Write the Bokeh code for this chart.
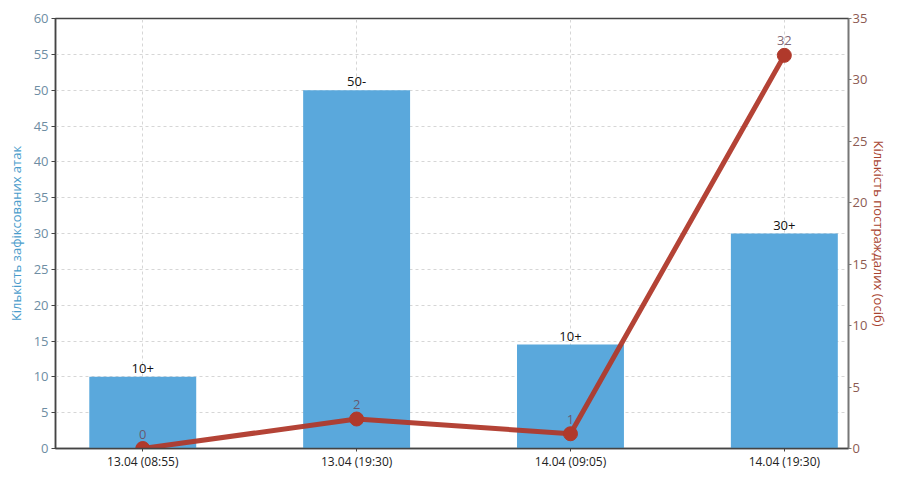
from bokeh.plotting import figure
from bokeh.models import Range1d, LinearAxis, FixedTicker, ColumnDataSource
from bokeh.core.properties import value
from bokeh.embed import file_html
from bokeh.resources import INLINE

categories = ["13.04 (08:55)", "13.04 (19:30)", "14.04 (09:05)", "14.04 (19:30)"]
attacks = [10, 50, 14.5, 30]
attack_labels = ["10+", "50-", "10+", "30+"]
victims = [0, 2.4, 1.2, 32]
victim_labels = ["0", "2", "1", "32"]
left_ticks = list(range(0, 61, 5))
right_ticks = list(range(0, 36, 5))

FONT = "Open Sans"
BAR = "#5AA8DC"
LINE = "#B0392B"

xs = list(range(len(categories)))

p = figure(width=891, height=472, output_backend="svg", toolbar_location=None,
           x_range=Range1d(-0.408, 3.30), y_range=Range1d(0, 60),
           min_border_left=55, min_border_right=0, min_border_top=18, min_border_bottom=0)
p.extra_y_ranges = {"right": Range1d(0, 35)}

p.background_fill_color = "white"
p.border_fill_color = "white"
p.outline_line_color = "#444444"
p.outline_line_width = 1.5

# grids
p.xgrid.ticker = FixedTicker(ticks=xs)
p.ygrid.ticker = FixedTicker(ticks=left_ticks)
for g in (p.xgrid, p.ygrid):
    g.grid_line_color = "#d6d6d6"
    g.grid_line_dash = "3 3"
    g.grid_line_width = 1

# bars
src_b = ColumnDataSource(dict(x=xs, top=attacks, lab=attack_labels))
p.vbar(x="x", top="top", width=0.5, source=src_b, fill_color=BAR, line_color=None)
p.text(x="x", y="top", text="lab", source=src_b, text_align="center",
       text_baseline="bottom", y_offset=-4, text_font=value(FONT),
       text_font_size="13px", text_color="#111111")

# line
src_l = ColumnDataSource(dict(x=xs, y=victims, lab=victim_labels))
p.line(x="x", y="y", source=src_l, y_range_name="right", line_color=LINE,
       line_width=5, line_alpha=0.95)
p.scatter(x="x", y="y", source=src_l, y_range_name="right", size=14,
          fill_color=LINE, line_color=LINE)
p.text(x="x", y="y", text="lab", source=src_l, y_range_name="right",
       text_align="center", text_baseline="bottom", y_offset=-10,
       text_font=value(FONT), text_font_size="13px", text_color="#6a4a5a",
       text_alpha=0.85)

# x axis
xa = p.xaxis[0]
xa.ticker = FixedTicker(ticks=xs)
xa.major_label_overrides = {i: c for i, c in enumerate(categories)}
xa.major_label_text_font = FONT
xa.major_label_text_font_size = "12px"
xa.major_label_text_color = "#222222"
xa.axis_line_color = "#444444"
xa.axis_line_width = 1.5
xa.major_tick_out = 3
xa.major_tick_in = 0
xa.major_tick_line_color = "#444444"
xa.minor_tick_line_color = None
xa.major_label_standoff = 1

# left axis
ya = p.yaxis[0]
ya.ticker = FixedTicker(ticks=left_ticks)
ya.axis_label = "Кількість зафіксованих атак"
ya.axis_label_text_color = "#4A9CCB"
ya.axis_label_text_font = FONT
ya.axis_label_text_font_style = "normal"
ya.axis_label_text_font_size = "13px"
ya.axis_label_standoff = 6
ya.major_label_text_font = FONT
ya.major_label_text_font_size = "13px"
ya.major_label_text_color = "#6E8DA3"
ya.axis_line_color = "#444444"
ya.axis_line_width = 1.5
ya.major_tick_out = 4
ya.major_tick_in = 0
ya.major_tick_line_color = "#444444"
ya.minor_tick_line_color = None
ya.major_label_standoff = 3

# right axis
ra = LinearAxis(y_range_name="right", ticker=FixedTicker(ticks=right_ticks))
ra.axis_label = "Кількість постраждалих (осіб)"
ra.axis_label_text_color = "#A8432F"
ra.axis_label_text_font = FONT
ra.axis_label_text_font_style = "normal"
ra.axis_label_text_font_size = "13px"
ra.axis_label_standoff = 0
ra.major_label_text_font = FONT
ra.major_label_text_font_size = "13px"
ra.major_label_text_color = "#8C5A52"
ra.axis_line_color = "#777777"
ra.axis_line_width = 1.5
ra.major_tick_out = 3
ra.major_tick_in = 0
ra.major_tick_line_color = "#777777"
ra.minor_tick_line_color = None
ra.major_label_standoff = 1
p.add_layout(ra, "right")

open("out.html", "w").write(file_html(p, INLINE))
